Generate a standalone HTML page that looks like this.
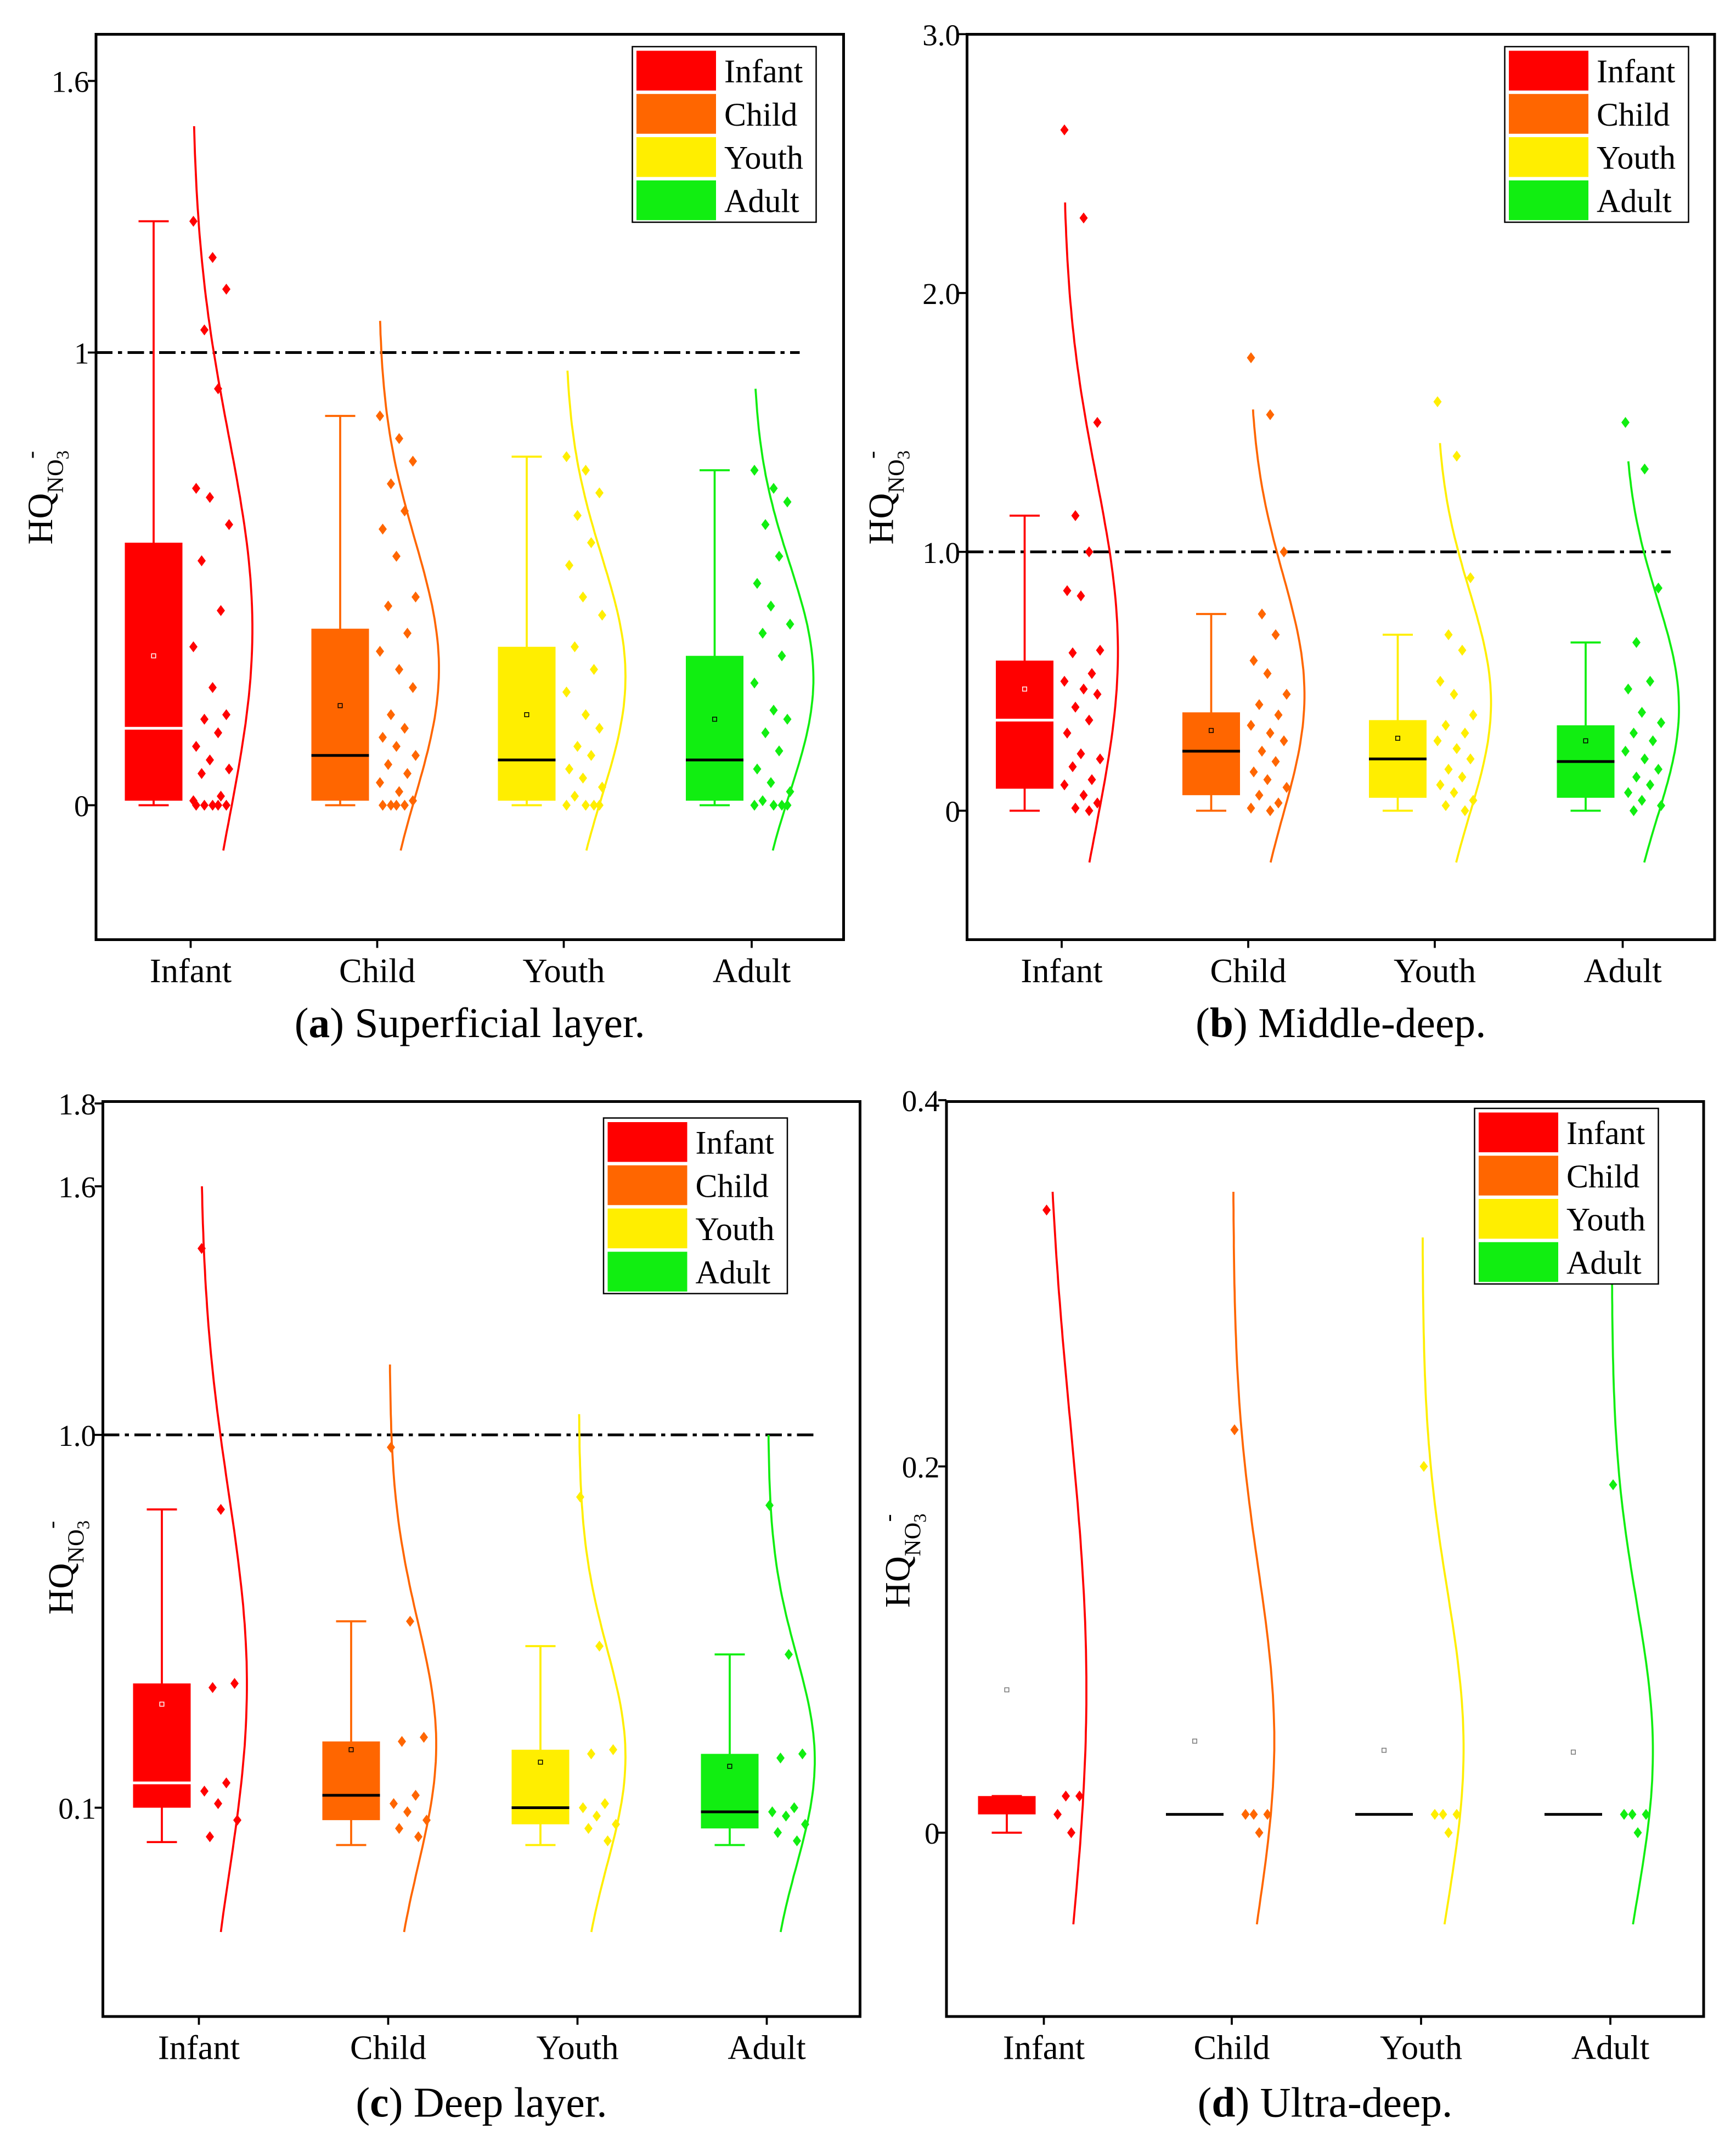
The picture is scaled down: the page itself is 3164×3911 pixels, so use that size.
<!DOCTYPE html>
<html><head><meta charset="utf-8"><style>
html,body{margin:0;padding:0;background:#fff}
svg{display:block}
text{font-family:"Liberation Serif",serif;fill:#000}
</style></head><body>
<svg id="chart" xmlns="http://www.w3.org/2000/svg" width="3164" height="3911" viewBox="0 0 1265.6 1564.4"></svg>
<script>
const categories = ["Infant","Child","Youth","Adult"];
const colors = ["#ff0000","#ff6600","#ffee00","#11ee11"];
// Panel A
const aWhiskLo=[0,0,0,0], aWhiskHi=[1.29,0.86,0.77,0.74], aQ1=[0.01,0.01,0.01,0.01], aQ3=[0.58,0.39,0.35,0.33], aMedian=[0.17,0.11,0.10,0.10], aMean=[0.33,0.22,0.20,0.19];
const aDots=[[1.29,1.21,1.14,1.05,0.92,0.70,0.68,0.62,0.54,0.43,0.35,0.26,0.20,0.19,0.16,0.13,0.10,0.08,0.07,0.02,0.01,0,0,0,0,0],
[0.86,0.81,0.76,0.71,0.65,0.61,0.55,0.46,0.44,0.38,0.34,0.30,0.26,0.20,0.17,0.15,0.13,0.11,0.09,0.07,0.05,0.03,0.01,0,0,0,0],
[0.77,0.74,0.69,0.64,0.58,0.53,0.46,0.42,0.35,0.30,0.25,0.20,0.17,0.13,0.11,0.08,0.06,0.04,0.02,0,0,0,0],
[0.74,0.70,0.67,0.62,0.55,0.49,0.44,0.40,0.38,0.33,0.27,0.21,0.19,0.16,0.12,0.08,0.05,0.03,0.01,0,0,0,0]];
const aCurveLo=[-0.1,-0.1,-0.1,-0.1], aCurveHi=[1.5,1.07,0.96,0.92];
const aTicks=[0,1,1.6], aTickLabels=["0","1","1.6"];
// Panel B
const bWhiskLo=[0,0,0,0], bWhiskHi=[1.14,0.76,0.68,0.65], bQ1=[0.085,0.06,0.05,0.05], bQ3=[0.58,0.38,0.35,0.33], bMedian=[0.35,0.23,0.20,0.19], bMean=[0.47,0.31,0.28,0.27];
const bDots=[[2.63,2.29,1.5,1.14,1.0,0.85,0.83,0.62,0.61,0.53,0.5,0.47,0.45,0.4,0.35,0.3,0.22,0.2,0.17,0.12,0.1,0.06,0.03,0.01,0],
[1.75,1.53,1.0,0.76,0.68,0.58,0.53,0.45,0.41,0.37,0.33,0.3,0.27,0.23,0.19,0.15,0.12,0.09,0.06,0.03,0.01,0],
[1.58,1.37,0.9,0.68,0.62,0.5,0.45,0.37,0.33,0.3,0.27,0.24,0.2,0.16,0.13,0.1,0.07,0.04,0.02,0],
[1.5,1.32,0.86,0.65,0.5,0.47,0.38,0.34,0.3,0.27,0.23,0.2,0.16,0.13,0.1,0.07,0.04,0.02,0]];
const bCurveLo=[-0.2,-0.2,-0.2,-0.2], bCurveHi=[2.35,1.55,1.42,1.35];
const bTicks=[0,1,2,3], bTickLabels=["0","1.0","2.0","3.0"];
// Panel C
const cWhiskLo=[0.017,0.01,0.01,0.01], cWhiskHi=[0.82,0.55,0.49,0.47], cQ1=[0.1,0.07,0.06,0.05], cQ3=[0.40,0.26,0.24,0.23], cMedian=[0.16,0.13,0.10,0.09], cMean=[0.35,0.24,0.21,0.20];
const cDots=[[1.45,0.82,0.40,0.39,0.16,0.14,0.11,0.07,0.03],[0.97,0.55,0.27,0.26,0.13,0.11,0.09,0.07,0.05,0.03],[0.85,0.49,0.24,0.23,0.11,0.1,0.08,0.06,0.05,0.02],[0.83,0.47,0.23,0.22,0.1,0.09,0.08,0.06,0.04,0.02]];
const cCurveLo=[-0.2,-0.2,-0.2,-0.2], cCurveHi=[1.6,1.17,1.05,1.0];
const cTicks=[0.1,1,1.6,1.8], cTickLabels=["0.1","1.0","1.6","1.8"];
// Panel D
const dWhiskLo=[0,0.01,0.01,0.01], dWhiskHi=[0.02,0.01,0.01,0.01], dQ1=[0.01,0.01,0.01,0.01], dQ3=[0.02,0.01,0.01,0.01], dMedian=[null,0.01,0.01,0.01], dMean=[0.078,0.05,0.045,0.044];
const dDots=[[0.34,0.02,0.02,0.01,0],[0.22,0.01,0.01,0.01,0],[0.2,0.01,0.01,0.01,0],[0.19,0.01,0.01,0.01,0]];
const dCurveLo=[-0.05,-0.05,-0.05,-0.05], dCurveHi=[0.35,0.35,0.325,0.32];
const dTicks=[0,0.2,0.4], dTickLabels=["0","0.2","0.4"];

const NS="http://www.w3.org/2000/svg";
const svg=document.getElementById('chart');
function mk(tag,attrs,parent){const e=document.createElementNS(NS,tag);for(const k in attrs)e.setAttribute(k,attrs[k]);(parent||svg).appendChild(e);return e;}

const panels=[
 {id:'a',x0:70,x1:615,yTop:25,yBot:685,v0:0,p0:587,ppu:330,cx:[139,275,411,548],whLo:aWhiskLo,whHi:aWhiskHi,q1:aQ1,q3:aQ3,med:aMedian,mean:aMean,dots:aDots,cLo:aCurveLo,cHi:aCurveHi,ticks:aTicks,tl:aTickLabels,ref:[70,583],leg:[461,34],ttl:[30,355],cap:'(a)',capT:' Superficial layer.',capY:746,catY:708,width:44},
 {id:'b',x0:705,x1:1250,yTop:25,yBot:685,v0:0,p0:591,ppu:188.7,cx:[774,910,1046,1183],whLo:bWhiskLo,whHi:bWhiskHi,q1:bQ1,q3:bQ3,med:bMedian,mean:bMean,dots:bDots,cLo:bCurveLo,cHi:bCurveHi,ticks:bTicks,tl:bTickLabels,ref:[705,1218],leg:[1097,34],ttl:[643,355],cap:'(b)',capT:' Middle-deep.',capY:746,catY:708,width:40},
 {id:'c',x0:75,x1:627,yTop:803,yBot:1470,v0:0,p0:1348,ppu:302,cx:[145,283,421,559],whLo:cWhiskLo,whHi:cWhiskHi,q1:cQ1,q3:cQ3,med:cMedian,mean:cMean,dots:cDots,cLo:cCurveLo,cHi:cCurveHi,ticks:cTicks,tl:cTickLabels,ref:[75,595],leg:[440,815],ttl:[45,1135],cap:'(c)',capT:' Deep layer.',capY:1533,catY:1493,width:34},
 {id:'d',x0:690,x1:1242,yTop:803,yBot:1470,v0:0,p0:1336,ppu:1335,cx:[761,898,1036,1174],whLo:dWhiskLo,whHi:dWhiskHi,q1:dQ1,q3:dQ3,med:dMedian,mean:dMean,dots:dDots,cLo:dCurveLo,cHi:dCurveHi,ticks:dTicks,tl:dTickLabels,ref:null,leg:[1075,808],ttl:[655,1130],cap:'(d)',capT:' Ultra-deep.',capY:1533,catY:1493,width:30}
];

panels.forEach(P=>{
 const y=v=>P.p0-(v-P.v0)*P.ppu;
 const g=mk('g',{});
 
 
 if(P.ref){const l=mk('line',{x1:P.ref[0],x2:P.ref[1],y1:y(1),y2:y(1),stroke:'#000','stroke-width':2,'stroke-dasharray':'12 4 3 4'},g);
  
  }
 categories.forEach((c,i)=>{
  const cx=P.cx[i], col=colors[i];
  const cg=mk('g',{},g);
  
  
  mk('line',{x1:cx-27,x2:cx-27,y1:y(P.whLo[i]),y2:y(P.whHi[i]),stroke:col,'stroke-width':1.5},cg);
  mk('line',{x1:cx-38,x2:cx-16,y1:y(P.whHi[i]),y2:y(P.whHi[i]),stroke:col,'stroke-width':1.5},cg);
  mk('line',{x1:cx-38,x2:cx-16,y1:y(P.whLo[i]),y2:y(P.whLo[i]),stroke:col,'stroke-width':1.5},cg);
  const bx=mk('rect',{x:cx-48,y:y(P.q3[i]),width:42,height:Math.max(0.5,y(P.q1[i])-y(P.q3[i])),fill:col},cg);
  
  
  if(P.med[i]!=null)mk('line',{x1:cx-48,x2:cx-6,y1:y(P.med[i]),y2:y(P.med[i]),stroke:i==0?'#fff':'#000','stroke-width':2},cg);
  const inside=P.mean[i]<=P.q3[i];
  mk('rect',{x:cx-28.5,y:y(P.mean[i])-1.5,width:3,height:3,fill:'none',stroke:inside&&i==0?'#fff':(inside?'#000':'#777'),'stroke-width':0.6},cg);
  P.dots[i].forEach((v,j)=>{
   const dx=cx+2+((j*7)%5)*6+(j%2)*2, dy=y(v);
   const d=mk('path',{d:`M${dx},${dy-4}L${dx+3},${dy}L${dx},${dy+4}L${dx-3},${dy}Z`,fill:col},cg);
   
   
  });
  const arr=P.dots[i], n=arr.length, m=arr.reduce((a,b)=>a+b,0)/n;
  const sd=Math.sqrt(arr.reduce((a,b)=>a+(b-m)*(b-m),0)/(n-1))||0.01;
  let pts=[];
  for(let k=0;k<=80;k++){const v=P.cLo[i]+(P.cHi[i]-P.cLo[i])*k/80;const z=(v-m)/sd;pts.push((cx+1+P.width*Math.exp(-z*z/2)).toFixed(1)+','+y(v).toFixed(1));}
  const cu=mk('polyline',{points:pts.join(' '),fill:'none',stroke:col,'stroke-width':1.5},cg);
  
  
  const t=mk('text',{x:cx,y:P.catY+8,'font-size':25,'text-anchor':'middle'},g);t.textContent=c;
  
  
 });
 const fr=mk('rect',{x:P.x0,y:P.yTop,width:P.x1-P.x0,height:P.yBot-P.yTop,fill:'none',stroke:'#000','stroke-width':2},g);
 
 
 P.ticks.forEach((v,k)=>{
  mk('line',{x1:P.x0-6,x2:P.x0,y1:y(v),y2:y(v),stroke:'#000','stroke-width':1.5},g);
  const t=mk('text',{x:P.x0-5,y:y(v)+8,'font-size':22,'text-anchor':'end'},g);t.textContent=P.tl[k];
  
  
 });
 P.cx.forEach(cx=>mk('line',{x1:cx,x2:cx,y1:P.yBot,y2:P.yBot+6,stroke:'#000','stroke-width':1.5},g));
 const tt=mk('text',{transform:`translate(${P.ttl[0]+8},${P.ttl[1]+42}) rotate(-90)`,'font-size':26},g);
 tt.innerHTML='HQ<tspan font-size="17" dy="8">NO</tspan><tspan font-size="13" dy="4">3</tspan><tspan font-size="17" dy="-22" dx="-6">-</tspan>';
 
 
 const lg=mk('g',{},g);
 
 
 mk('rect',{x:P.leg[0],y:P.leg[1],width:134,height:128,fill:'#fff',stroke:'#000','stroke-width':1},lg);
 categories.forEach((c,i)=>{
  const e=mk('g',{},lg);
  
  
  mk('rect',{x:P.leg[0]+3,y:P.leg[1]+3+i*31.5,width:58,height:29,fill:colors[i]},e);
  const t=mk('text',{x:P.leg[0]+67,y:P.leg[1]+26+i*31.5,'font-size':24},e);t.textContent=c;
 });
 const cp=mk('text',{x:(P.x0+P.x1)/2,y:P.capY+10,'font-size':31,'text-anchor':'middle'},g);
 cp.innerHTML='(<tspan font-weight="bold">'+P.cap[1]+'</tspan>)'+P.capT;
 
 
});
</script>
</body></html>
